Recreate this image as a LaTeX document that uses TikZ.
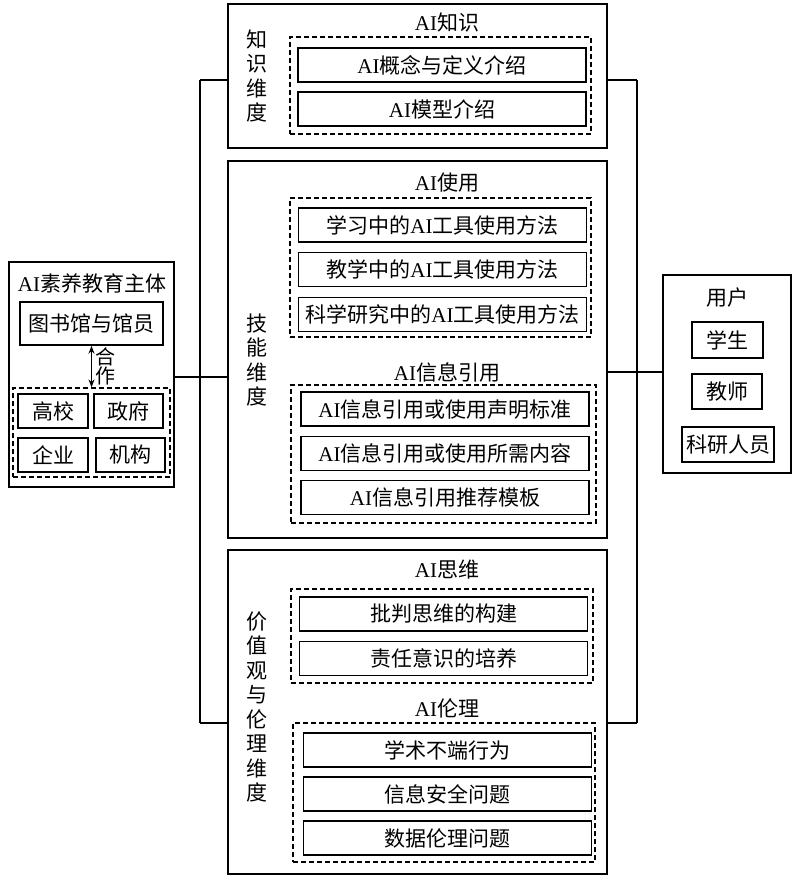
\documentclass[tikz,border=0pt]{standalone}
\usepackage{fontspec}
\setmainfont{Noto Sans CJK SC}
\newfontfamily\latinfont{Liberation Serif}
\usetikzlibrary{arrows.meta}
\newcommand{\AI}{{\latinfont AI}}
\tikzset{
  dimbox/.style = {draw, line width = 1.2pt, inner sep = 0},
  group/.style = {draw, line width = 1.2pt, dash pattern = on 5pt off 3pt, inner sep = 0},
  item/.style = {draw, line width = 1.5pt, inner sep = 0, minimum width = 288pt, minimum height = 34pt},
  small/.style = {draw, line width = 1.5pt, inner sep = 0, minimum height = 34pt},
  title/.style = {font = \fontsize{21}{24}\selectfont},
  vlabel/.style = {align = center, inner sep = 0, font = \fontsize{21}{24.5}\selectfont}
}

\begin{document}
\begin{tikzpicture}[x = 1pt, y = -1pt, line width = 1.2pt,
    font = \fontsize{21}{24}\selectfont, >={Stealth[length = 8pt, width = 6pt]}]
    \useasboundingbox (0, 0) rectangle (798, 894);

    % knowledge dimension
    \node [dimbox, minimum width = 379pt, minimum height = 144pt] (know) at (417.5, 76) {};
    \node [vlabel] (knowlbl) at (257, 76) {知\\识\\维\\度};
    \node [title] (knowttl) at (447, 22) {\AI{}知识};
    \node [group, minimum width = 301pt, minimum height = 97pt] (gknow) at (440.5, 85.5) {};
    \node [item] (concept) at (442, 65) {\AI{}概念与定义介绍};
    \node [item] (model) at (442, 109) {\AI{}模型介绍};

    % skill dimension
    \node [dimbox, minimum width = 379pt, minimum height = 377pt] (skill) at (417.5, 349.5) {};
    \node [vlabel] (skilllbl) at (257, 360) {技\\能\\维\\度};
    \node [title] (usettl) at (447, 183) {\AI{}使用};
    \node [group, minimum width = 301pt, minimum height = 139pt] (guse) at (440.5, 267.5) {};
    \node [item] (study) at (442.5, 225) {学习中的\AI{}工具使用方法};
    \node [item] (teach) at (442.5, 269.5) {教学中的\AI{}工具使用方法};
    \node [item] (research) at (442.5, 314.5) {科学研究中的\AI{}工具使用方法};
    \node [title] (citettl) at (447, 372) {\AI{}信息引用};
    \node [group, minimum width = 305pt, minimum height = 138pt] (gcite) at (443.5, 454) {};
    \node [item] (standard) at (445, 409) {\AI{}信息引用或使用声明标准};
    \node [item] (content) at (445, 453.5) {\AI{}信息引用或使用所需内容};
    \node [item] (template) at (445, 497.5) {\AI{}信息引用推荐模板};

    % value and ethics dimension
    \node [dimbox, minimum width = 379pt, minimum height = 324pt] (value) at (417.5, 712) {};
    \node [vlabel] (valuelbl) at (257, 707) {价\\值\\观\\与\\伦\\理\\维\\度};
    \node [title] (thinkttl) at (447, 570) {\AI{}思维};
    \node [group, minimum width = 302pt, minimum height = 94pt] (gthink) at (442, 636) {};
    \node [item] (critical) at (443.5, 614) {批判思维的构建};
    \node [item] (duty) at (443.5, 658.5) {责任意识的培养};
    \node [title] (ethicttl) at (447, 708) {\AI{}伦理};
    \node [group, minimum width = 302pt, minimum height = 139pt] (gethic) at (444, 792.5) {};
    \node [item] (misconduct) at (447.5, 750) {学术不端行为};
    \node [item] (security) at (447.5, 794) {信息安全问题};
    \node [item] (dataeth) at (447.5, 838) {数据伦理问题};

    % education subjects
    \node [dimbox, minimum width = 165pt, minimum height = 225pt] (subject) at (91.5, 374.5) {};
    \node [title] (subjttl) at (92, 283) {\AI{}素养教育主体};
    \node [small, minimum width = 143pt, minimum height = 43pt] (lib) at (91.5, 323.5) {图书馆与馆员};
    \node [group, minimum width = 157pt, minimum height = 89pt] (partner) at (91.5, 432.5) {};
    \node [small, minimum width = 70pt] (univ) at (53, 411) {高校};
    \node [small, minimum width = 69pt] (gov) at (128.5, 411) {政府};
    \node [small, minimum width = 70pt] (firm) at (53, 455) {企业};
    \node [small, minimum width = 69pt] (inst) at (130.5, 455) {机构};
    \draw [<->, line width = 1.3pt] (lib.south) -- (partner.north);
    \node [vlabel, font = \fontsize{20}{19}\selectfont] (coop) at (105, 366) {合\\作};

    % users
    \node [dimbox, minimum width = 128pt, minimum height = 198pt] (users) at (727, 374) {};
    \node [title] (userttl) at (727, 298) {用户};
    \node [small, minimum width = 71pt, minimum height = 36pt] (student) at (727.5, 340) {学生};
    \node [small, minimum width = 70pt, minimum height = 35pt] (teacher) at (727, 391.5) {教师};
    \node [small, minimum width = 92pt, minimum height = 35pt] (scholar) at (728, 444.5) {科研人员};

    % connectors
    \coordinate (ltop) at (200, 80);
    \coordinate (lmid) at (200, 377);
    \coordinate (lbot) at (200, 723);
    \draw (ltop) -- (lbot);
    \draw (ltop) -- (ltop -| know.west);
    \draw (lmid) -- (lmid -| skill.west);
    \draw (lbot) -- (lbot -| value.west);
    \draw (lmid) -- (lmid -| subject.east);

    \coordinate (rtop) at (637, 80);
    \coordinate (rmid) at (637, 372);
    \coordinate (rbot) at (637, 723);
    \draw (rtop) -- (rbot);
    \draw (rtop) -- (rtop -| know.east);
    \draw (rmid) -- (rmid -| skill.east);
    \draw (rbot) -- (rbot -| value.east);
    \draw (rmid) -- (rmid -| users.west);
\end{tikzpicture}
\end{document}
